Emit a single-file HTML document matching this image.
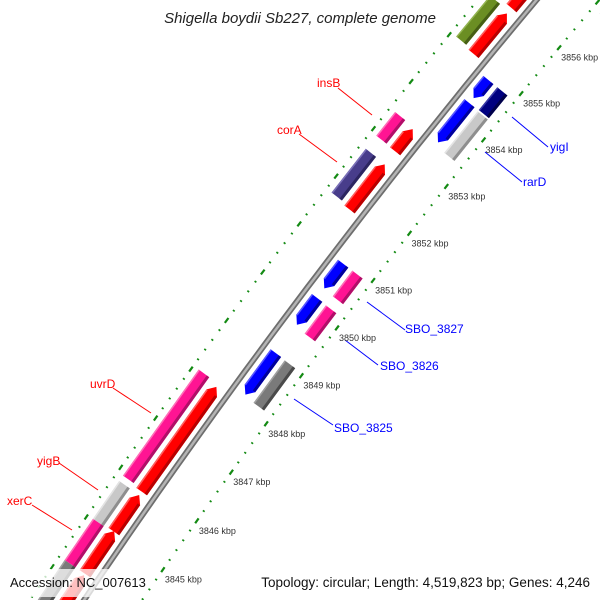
<!DOCTYPE html>
<html><head><meta charset="utf-8"><style>
html,body{margin:0;padding:0;background:#fff;width:600px;height:600px;overflow:hidden;}
svg{display:block;font-family:"Liberation Sans",sans-serif;overflow:hidden;}
</style></head><body>
<svg id="map" width="600" height="600" viewBox="0 0 600 600" xmlns="http://www.w3.org/2000/svg">
<rect width="600" height="600" fill="#fff"/>
<g id="rings"></g>
<g id="backbone"></g>
<g id="feats"></g>
<g id="labels"></g>
<g id="ticklabels"></g>
<text x="300" y="23" text-anchor="middle" font-size="15" font-style="italic" fill="#222">Shigella boydii Sb227, complete genome</text>
<rect x="4" y="569" width="142" height="28" fill="rgba(255,255,255,0.75)"/>
<text x="10" y="587" font-size="13" fill="#111">Accession: NC_007613</text>
<rect x="256" y="569" width="340" height="28" fill="rgba(255,255,255,0.75)"/>
<text x="590" y="587" font-size="13.5" fill="#111" text-anchor="end">Topology: circular; Length: 4,519,823 bp; Genes: 4,246</text>
</svg>
<script>
// ---- data (kbp) ----
var featStart = [3843.3, 3844.21, 3845.06, 3845.87, 3851.70, 3852.93, 3855.01, 3856.0,
                 3843.3, 3844.21, 3845.04, 3845.91, 3851.74, 3852.94, 3855.05, 3856.05,
                 3848.19, 3849.64, 3850.40, 3853.49, 3854.44,
                 3848.16, 3849.60, 3850.38, 3853.42, 3854.34];
var featEnd   = [3844.18, 3845.07, 3845.80, 3848.01, 3852.65, 3853.40, 3855.88, 3857.5,
                 3844.21, 3845.04, 3845.80, 3848.07, 3852.66, 3853.44, 3855.93, 3857.5,
                 3849.05, 3850.20, 3850.92, 3854.33, 3854.83,
                 3849.04, 3850.19, 3850.92, 3854.31, 3854.83];
var featLane  = [-14,-14,-14,-14,-14,-14,-14,-14,
                 -32,-32,-32,-32,-32,-32,-32,-32,
                 14,14,14,14,14,
                 32,32,32,32,32];
var featType  = ['fwd','fwd','fwd','fwd','fwd','fwd','fwd','fwd',
                 'box','box','box','box','box','box','box','box',
                 'rev','rev','rev','rev','rev',
                 'box','box','box','box','box'];
var featColor = ['red','red','red','red','red','red','red','red',
                 'gray','pink','lgray','pink','purple','pink','olive','pink',
                 'blue','blue','blue','blue','blue',
                 'gray','pink','pink','lgray','navy'];
var tickValues = [3842,3843,3844,3845,3846,3847,3848,3849,3850,3851,3852,3853,3854,3855,3856,3857];
var tickLabels = ['3842 kbp','3843 kbp','3844 kbp','3845 kbp','3846 kbp','3847 kbp','3848 kbp','3849 kbp','3850 kbp','3851 kbp','3852 kbp','3853 kbp','3854 kbp','3855 kbp','3856 kbp','3857 kbp'];
var geneNames = ['insB','corA','uvrD','yigB','xerC','SBO_3827','SBO_3826','SBO_3825','yigI','rarD'];
var geneSide  = ['out','out','out','out','out','in','in','in','in','in'];

// ---- axis / polar scale ----
var CX=6051.7, CY=4628.4, R=7200, PHI0=217.44*Math.PI/180, DK=59.6/7152, REF=3851;
function pt(k,d){var ph=PHI0+(k-REF)*DK, r=R-d; return [CX+r*Math.cos(ph), CY+r*Math.sin(ph)];}
function P(a){return a[0].toFixed(1)+','+a[1].toFixed(1);}
var NS='http://www.w3.org/2000/svg';
function mk(tag,parent){var e=document.createElementNS(NS,tag);document.getElementById(parent).appendChild(e);return e;}

var pal={red:['#ff0000','#b80000','#ff6060'],pink:['#ff1493','#b00f68','#ff70b8'],blue:['#0000ff','#00009a','#5a5aff'],
 navy:['#000080','#00004a','#3a3aa8'],lgray:['#c8c8c8','#8e8e8e','#e4e4e4'],gray:['#7a7a7a','#4a4a4a','#a0a0a0'],
 purple:['#483d8b','#2c2560','#7a70b8'],olive:['#6b8e23','#465e14','#93b550']};

// backbone
(function(){
 var pts=[]; for(var k=3842.5;k<=3857.51;k+=0.25) pts.push(P(pt(k,0)));
 var a=mk('polyline','backbone');
 
 
 a.setAttribute('points',pts.join(' '));a.setAttribute('fill','none');a.setAttribute('stroke','#6e6e6e');a.setAttribute('stroke-width','6');
 var b=mk('polyline','backbone');
 
 
 b.setAttribute('points',pts.join(' '));b.setAttribute('fill','none');b.setAttribute('stroke','#b4b4b4');b.setAttribute('stroke-width','2.5');
})();

// tick rings
[-45,48].forEach(function(d){
 for(var i=0;i<tickValues.length;i++){
  var k0=tickValues[i];
  for(var j=0;j<5;j++){
   var k=k0+j*0.2;
   var l=mk('line','rings');
   
   
   var hl=j==0?0.05:0.014;
   var a=pt(k-hl,d), b=pt(k+hl,d);
   l.setAttribute('x1',a[0]);l.setAttribute('y1',a[1]);l.setAttribute('x2',b[0]);l.setAttribute('y2',b[1]);
   l.setAttribute('stroke','#138a13');l.setAttribute('stroke-width',j==0?'2.2':'2.2');
  }
 }
});
for(var i=0;i<tickValues.length;i++){
 var p=pt(tickValues[i],48);
 var t=mk('text','ticklabels');
 
 
 t.setAttribute('x',(p[0]+2).toFixed(1));t.setAttribute('y',(p[1]+13).toFixed(1));
 t.setAttribute('font-size','9');t.setAttribute('fill','#333');t.textContent=tickLabels[i];
}

// features
function poly(parent,pts,fill,name){
 var e=mk('polygon',parent);
 
 
 e.setAttribute('points',pts.map(P).join(' '));e.setAttribute('fill',fill);return e;
}
var H=6.5, AL=0.13;
for(var i=0;i<featStart.length;i++){
 var s=featStart[i], e=featEnd[i], d=featLane[i], ty=featType[i], c=pal[featColor[i]];
 var bs=s, be=e;
 if(ty=='fwd') be=Math.max(s,e-AL);
 if(ty=='rev') bs=Math.min(e,s+AL);
 var shape=[pt(bs,d-H),pt(be,d-H)];
 if(ty=='fwd') shape.push(pt(e,d));
 shape.push(pt(be,d+H),pt(bs,d+H));
 if(ty=='rev') shape.push(pt(s,d));
 poly('feats',shape,c[0],'feature-'+featColor[i]);
 poly('feats',[pt(bs,d+H-3),pt(be,d+H-3),pt(be,d+H),pt(bs,d+H)],c[1],'feature-shade');
 poly('feats',[pt(bs,d-H),pt(be,d-H),pt(be,d-H+1.5),pt(bs,d-H+1.5)],c[2],'feature-highlight');
}

// gene labels (text position + leader line endpoints)
var labTextX=[317,277,90,37,7,405,380,334,550,523];
var labTextY=[87,134,388,465,505,333,370,432,151,186];
var lineX1=[338,299,113,59,32,367,345,294,512,485];
var lineY1=[88,134,388,463,505,302,340,399,117,152];
var lineX2=[372,337,151,98,72,405,378,333,548,522];
var lineY2=[115,162,413,490,530,330,365,425,147,182];
for(var i=0;i<geneNames.length;i++){
 var col=geneSide[i]=='out'?'#ff0000':'#0000ff';
 var l=mk('line','labels');
 
 
 l.setAttribute('x1',lineX1[i]);l.setAttribute('y1',lineY1[i]);l.setAttribute('x2',lineX2[i]);l.setAttribute('y2',lineY2[i]);
 l.setAttribute('stroke',col);l.setAttribute('stroke-width','1');
 var t=mk('text','labels');
 
 
 t.setAttribute('x',labTextX[i]);t.setAttribute('y',labTextY[i]);t.setAttribute('font-size','12');t.setAttribute('fill',col);
 t.textContent=geneNames[i];
}
</script>
</body></html>
